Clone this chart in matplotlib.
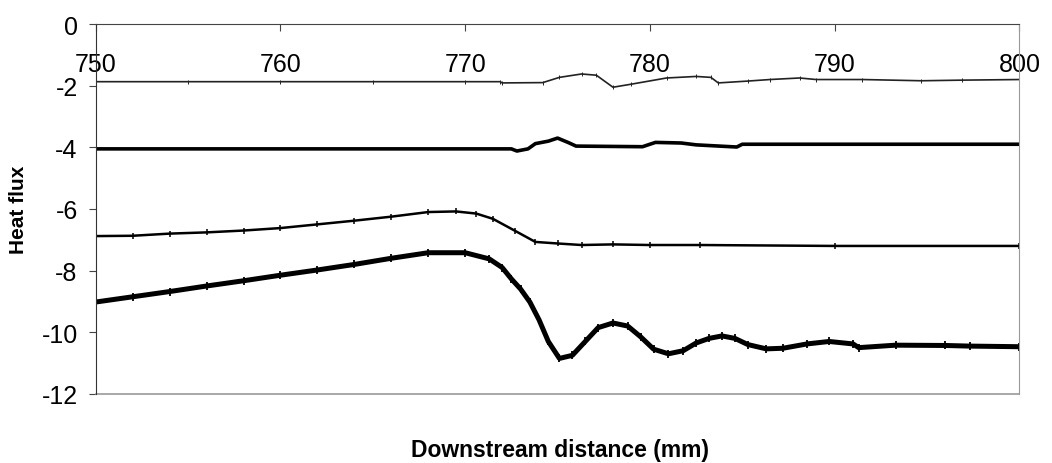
import numpy as np
import matplotlib.pyplot as plt

plt.rcParams['font.family'] = ['Liberation Sans', 'DejaVu Sans']
plt.rcParams['axes.unicode_minus'] = False

# downstream distance (mm) and heat flux for each profile
x_top = [750, 755, 760, 765, 770, 771.9, 772.0, 774.2, 775.1, 776.3, 777.1, 778.0,
         779.0, 780.9, 782.5, 783.3, 783.7, 785.3, 786.5, 788.1, 789.0, 791.5,
         794.7, 796.9, 800]
y_top = [-1.87, -1.87, -1.87, -1.87, -1.87, -1.87, -1.91, -1.90, -1.73, -1.62,
         -1.66, -2.05, -1.95, -1.75, -1.70, -1.73, -1.91, -1.85, -1.80, -1.75,
         -1.80, -1.80, -1.84, -1.82, -1.80]

x_second = [750, 760, 770, 772.5, 772.8, 773.4, 773.8, 774.5, 775.0, 775.6, 776.0,
            779.6, 780.3, 781.7, 782.5, 784.7, 785.0, 790, 800]
y_second = [-4.05, -4.05, -4.05, -4.05, -4.12, -4.05, -3.88, -3.80, -3.70, -3.85,
            -3.96, -3.98, -3.84, -3.86, -3.92, -3.99, -3.90, -3.90, -3.90]

x_third = [750, 752, 754, 756, 758, 760, 762, 764, 766, 768, 769.5, 770.6, 771.5,
           772.7, 773.8, 775, 776.3, 778, 780, 782.7, 790, 800]
y_third = [-6.88, -6.87, -6.80, -6.76, -6.70, -6.62, -6.50, -6.38, -6.25, -6.10,
           -6.08, -6.15, -6.32, -6.71, -7.07, -7.12, -7.17, -7.15, -7.17, -7.17,
           -7.20, -7.20]

x_bottom = [750, 752, 754, 756, 758, 760, 762, 764, 766, 768, 770, 771.3, 772,
            772.5, 773, 773.5, 774, 774.5, 775.1, 775.8, 776.5, 777.2, 778.0,
            778.8, 779.5, 780.2, 781.0, 781.8, 782.5, 783.2, 783.9, 784.6, 785.3,
            786.3, 787.2, 788.5, 789.7, 791.0, 791.3, 793.3, 796.0, 797.3, 800]
y_bottom = [-9.02, -8.85, -8.68, -8.50, -8.33, -8.15, -7.98, -7.80, -7.60, -7.42,
            -7.42, -7.62, -7.90, -8.27, -8.60, -9.02, -9.60, -10.30, -10.85,
            -10.75, -10.30, -9.85, -9.70, -9.80, -10.15, -10.55, -10.70, -10.60,
            -10.35, -10.20, -10.12, -10.20, -10.40, -10.54, -10.52, -10.38,
            -10.30, -10.38, -10.50, -10.42, -10.43, -10.45, -10.47]

x_ticks = [750, 760, 770, 780, 790, 800]
y_ticks = [0, -2, -4, -6, -8, -10, -12]

fig = plt.figure(figsize=(10.52, 4.64), dpi=100)
ax = fig.add_axes([0.091, 0.149, 0.878, 0.797])

ax.plot(x_top, y_top, color='#222222', lw=1.2, marker='|', ms=3, mew=0.7)
ax.plot(x_second, y_second, color='black', lw=2.6)
ax.plot(x_third, y_third, color='black', lw=1.8, marker='|', ms=5, mew=1.1)
ax.plot(x_bottom, y_bottom, color='black', lw=3.6, marker='|', ms=6, mew=1.3)

ax.set_xlim(750, 800)
ax.set_ylim(-12, 0)
ax.set_xticks(x_ticks)
ax.set_yticks(y_ticks)
ax.set_yticklabels([str(v) for v in y_ticks])

# x axis runs along the zero line, labels sit just under it
ax.spines['bottom'].set_position(('data', 0))
ax.spines['top'].set_visible(False)
ax.spines['right'].set_color('#999999')
ax.spines['left'].set_color('#333333')
ax.spines['bottom'].set_color('#444444')
ax.axhline(-12, color='#999999', lw=1.2, clip_on=False)

ax.tick_params(axis='x', direction='out', length=5, width=0.8, pad=15,
               labelsize=18, colors='#444444', labelcolor='black')
ax.tick_params(axis='y', direction='out', length=5, width=0.8, pad=8,
               labelsize=18, colors='#444444', labelcolor='black')

fig.text(0.532, 0.03, 'Downstream distance (mm)', ha='center', va='center',
         fontsize=16.5, fontweight='bold')
fig.text(0.018, 0.548, 'Heat flux', ha='center', va='center', rotation=90,
         fontsize=15, fontweight='bold')

fig.savefig('out.png', dpi=100)
